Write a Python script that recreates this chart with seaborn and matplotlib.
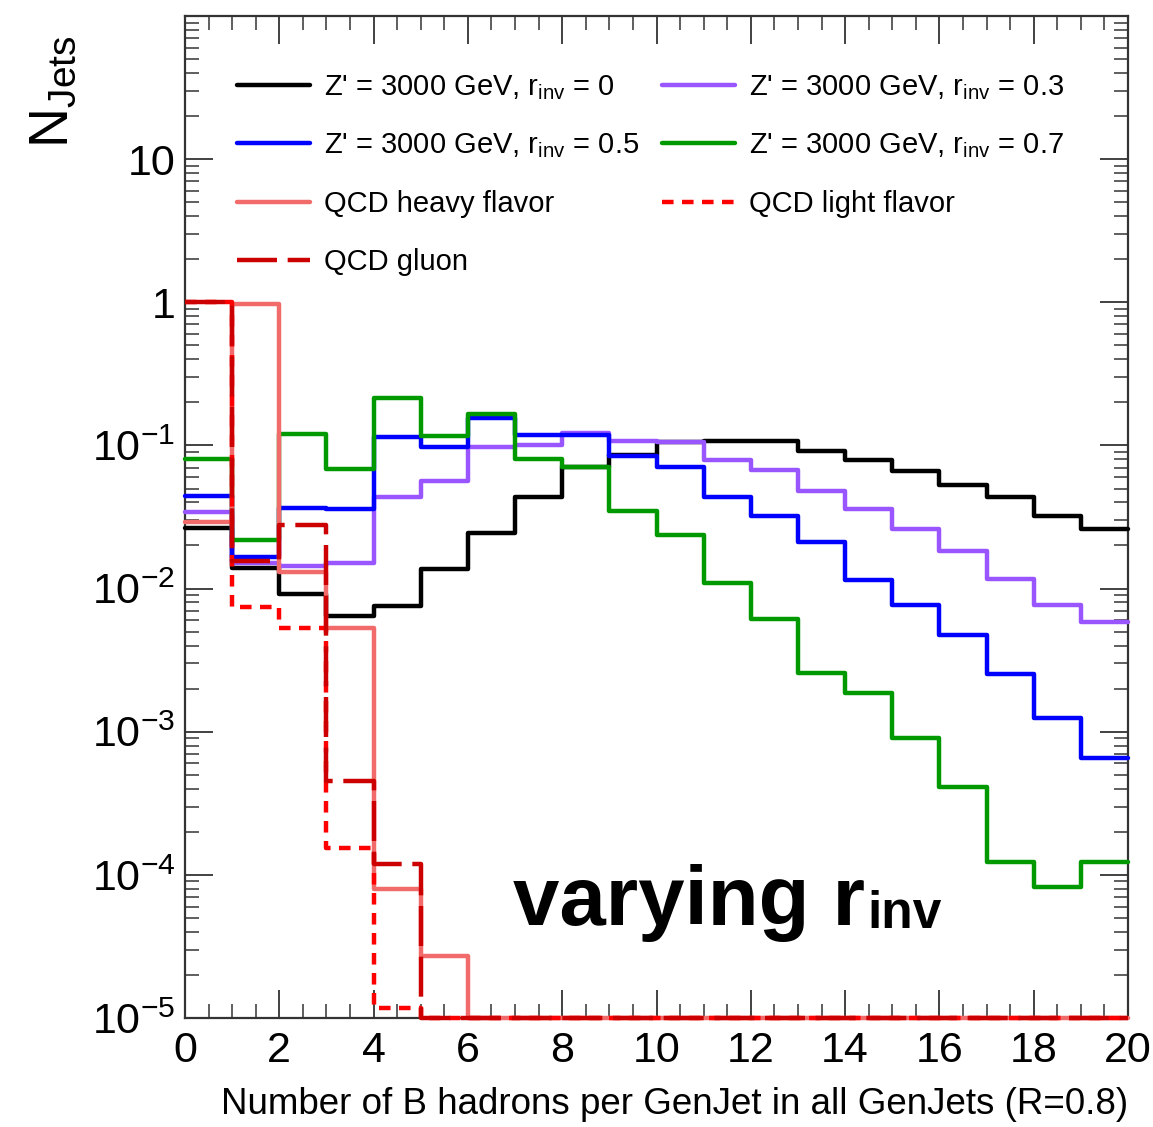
import numpy as np
import pandas as pd
import matplotlib
matplotlib.use("Agg")
import matplotlib.pyplot as plt
import seaborn as sns
from matplotlib.ticker import FixedLocator, FixedFormatter, MultipleLocator, LogLocator, NullFormatter

# ---------------- data ----------------
bin_edges = list(range(0, 21))
r_inv_0 = [0.0267, 0.0140, 0.0091, 0.0064, 0.0075, 0.0136, 0.0246, 0.0433, 0.0702, 0.0851,
           0.105, 0.108, 0.107, 0.092, 0.0786, 0.0668, 0.0525, 0.0433, 0.0319, 0.0259]
r_inv_03 = [0.034, 0.015, 0.0143, 0.0152, 0.0433, 0.056, 0.098, 0.101, 0.123, 0.108,
            0.105, 0.079, 0.067, 0.0477, 0.0357, 0.0259, 0.0182, 0.0117, 0.0077, 0.0058]
r_inv_05 = [0.044, 0.0165, 0.0368, 0.0357, 0.114, 0.098, 0.155, 0.119, 0.119, 0.085,
            0.071, 0.0433, 0.032, 0.021, 0.0114, 0.0077, 0.00477, 0.00255, 0.00125, 0.00066]
r_inv_07 = [0.080, 0.022, 0.121, 0.068, 0.213, 0.116, 0.165, 0.080, 0.071, 0.035,
            0.0235, 0.011, 0.0061, 0.00259, 0.00185, 0.00091, 0.00041, 0.000123, 0.000082, 0.000123]
qcd_heavy = [0.029, 0.98, 0.013, 0.0053, 8.0e-5, 2.7e-5, 0, 0, 0, 0,
             0, 0, 0, 0, 0, 0, 0, 0, 0, 0]
qcd_light = [1.0, 0.0074, 0.0053, 1.55e-4, 1.17e-5, 0, 0, 0, 0, 0,
             0, 0, 0, 0, 0, 0, 0, 0, 0, 0]
qcd_gluon = [1.0, 0.0155, 0.028, 4.5e-4, 1.2e-4, 0, 0, 0, 0, 0,
             0, 0, 0, 0, 0, 0, 0, 0, 0, 0]

labels = [
    "Z' = 3000 GeV, $\\mathregular{r_{inv}}$ = 0",
    "Z' = 3000 GeV, $\\mathregular{r_{inv}}$ = 0.3",
    "Z' = 3000 GeV, $\\mathregular{r_{inv}}$ = 0.5",
    "Z' = 3000 GeV, $\\mathregular{r_{inv}}$ = 0.7",
    "QCD heavy flavor",
    "QCD light flavor",
    "QCD gluon",
]
y_tick_values = [1e-5, 1e-4, 1e-3, 1e-2, 1e-1, 1, 10, 100]
y_tick_labels = ["$\\mathregular{10^{-5}}$", "$\\mathregular{10^{-4}}$", "$\\mathregular{10^{-3}}$",
                 "$\\mathregular{10^{-2}}$", "$\\mathregular{10^{-1}}$", "1", "10", ""]
x_label = "Number of B hadrons per GenJet in all GenJets (R=0.8)"

# ---------------- style ----------------
sns.set_style("ticks")
plt.rcParams["font.family"] = ["Liberation Sans", "DejaVu Sans"]
plt.rcParams["mathtext.default"] = "regular"
plt.rcParams["text.color"] = "black"
plt.rcParams["xtick.labelcolor"] = "black"
plt.rcParams["ytick.labelcolor"] = "black"

W, H = 1153, 1127
fig = plt.figure(figsize=(W / 100, H / 100), dpi=100)
ax = fig.add_axes([185 / W, 1 - 1018 / H, (1128 - 185) / W, (1018 - 16) / H])

YMIN, YMAX = 1e-5, 100
FLOOR = YMIN

styles = [
    ("#000000", "-"),
    ("#9955ff", "-"),
    ("#0000ff", "-"),
    ("#009900", "-"),
    ("#f26b6b", "-"),
    ("#ff0000", (0, (2.6, 1.9))),
    ("#cc0000", (0, (9, 2.4))),
]
data = [r_inv_0, r_inv_03, r_inv_05, r_inv_07, qcd_heavy, qcd_light, qcd_gluon]

for vals, lab, (col, ls) in zip(data, labels, styles):
    ys = np.maximum(np.append(np.asarray(vals, float), vals[-1]), FLOOR)
    df = pd.DataFrame({"x": bin_edges, "y": ys})
    sns.lineplot(data=df, x="x", y="y", ax=ax, color=col, linewidth=3.2,
                 linestyle=ls, drawstyle="steps-post", label=lab, estimator=None,
                 legend=False, zorder=3, clip_on=False)

ax.set_yscale("log")
ax.set_xlim(0, 20)
ax.set_ylim(YMIN, YMAX)

ax.xaxis.set_major_locator(MultipleLocator(2))
ax.xaxis.set_minor_locator(MultipleLocator(0.5))
ax.yaxis.set_major_locator(FixedLocator(y_tick_values))
ax.yaxis.set_major_formatter(FixedFormatter(y_tick_labels))
ax.yaxis.set_minor_locator(LogLocator(base=10, subs=np.arange(2, 10)))
ax.yaxis.set_minor_formatter(NullFormatter())

ax.tick_params(which="both", direction="in", top=True, right=True, color="#333333")
ax.tick_params(which="major", length=20, width=1.3)
ax.tick_params(which="minor", length=10, width=1.1)
ax.tick_params(axis="x", which="major", labelsize=31, pad=9)
ax.tick_params(axis="y", which="major", labelsize=31, pad=7)
for sp in ax.spines.values():
    sp.set_linewidth(1.6)
    sp.set_color("#333333")
    sp.set_zorder(2)
ax.set_xlabel("")
ax.set_ylabel("")

# legend (row-major ordering like the reference)
handles, labs = ax.get_legend_handles_labels()
order = [0, 2, 4, 6, 1, 3, 5]
leg = ax.legend([handles[i] for i in order], [labs[i] for i in order], ncol=2,
                loc="upper left", bbox_to_anchor=(237 / W, 1 - 73 / H),
                bbox_transform=fig.transFigure, frameon=False, fontsize=21,
                handlelength=2.5, handletextpad=0.5, columnspacing=0.75,
                labelspacing=1.02, borderpad=0, borderaxespad=0)

# axis titles
fig.text(28 / W, 1 - 36 / H, "$\\mathregular{N_{Jets}}$", rotation=90,
         ha="left", va="top", fontsize=40)
fig.text(1128 / W, 1 - 1122 / H, x_label, ha="right", va="bottom", fontsize=26.5)

# annotation
t1 = fig.text(513 / W, 1 - 925 / H, "varying r", fontsize=60, fontweight="bold",
              ha="left", va="baseline")
ax.annotate("inv", xy=(1.0, 1 - 928 / H), xycoords=(t1, "figure fraction"),
            xytext=(2, 0), textcoords="offset points", fontsize=37,
            fontweight="bold", ha="left", va="baseline")

fig.savefig("out.png", dpi=100)
